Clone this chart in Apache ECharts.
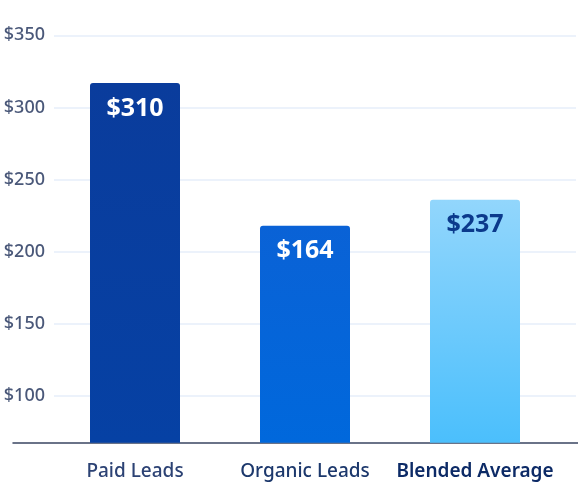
<!DOCTYPE html>
<html>
<head>
<meta charset="utf-8">
<script src="https://cdn.jsdelivr.net/npm/echarts@6/dist/echarts.min.js"></script>
<style>
html,body{margin:0;padding:0;background:#fff;}
#chart{width:578px;height:503px;}
</style>
</head>
<body>
<div id="chart"></div>
<script>
const categories = ['Paid Leads', 'Organic Leads', 'Blended Average'];
const barValues = [317, 218, 236];
const labelTexts = ['$310', '$164', '$237'];
const tickMin = 100, tickMax = 350, tickStep = 50;

const FONT = '"Noto Sans", "Open Sans", sans-serif';
const barColors = [
  new echarts.graphic.LinearGradient(0,0,0,1,[{offset:0,color:'#0a3c9c'},{offset:1,color:'#0641a4'}]),
  new echarts.graphic.LinearGradient(0,0,0,1,[{offset:0,color:'#0a62d6'},{offset:1,color:'#0068dc'}]),
  new echarts.graphic.LinearGradient(0,0,0,1,[{offset:0,color:'#92d6fc'},{offset:1,color:'#4bbffc'}])
];
const labelColors = ['#ffffff', '#ffffff', '#0b3a8c'];
const catColors = ['#2c4274', '#1c386c', '#0c2a66'];
const catWeights = [500, 500, 600];

const chart = echarts.init(document.getElementById('chart'), null, {renderer: 'canvas'});
chart.setOption({
  animation: false,
  backgroundColor: '#ffffff',
  grid: [
    {left: 54, right: 2, top: 35.3, bottom: 107},
    {left: 13, right: 0, top: 35.3, bottom: 60.3},
    {left: 50, right: 18, top: 35.3, bottom: 60.3}
  ],
  xAxis: [
    {gridIndex: 0, type: 'category', data: categories, show: false},
    {gridIndex: 1, type: 'category', data: categories,
      axisLine: {show: true, lineStyle: {color: '#3a4562', width: 1.5}},
      axisTick: {show: false}, axisLabel: {show: false}},
    {gridIndex: 2, type: 'category', data: categories,
      axisLine: {show: false}, axisTick: {show: false},
      axisLabel: {
        interval: 0,
        margin: 19,
        fontFamily: FONT,
        fontSize: 19,
        formatter: function (v, i) { return '{c' + i + '|' + v + '}'; },
        rich: {
          c0: {color: catColors[0], fontWeight: catWeights[0], fontSize: 19, fontFamily: FONT},
          c1: {color: catColors[1], fontWeight: catWeights[1], fontSize: 19, fontFamily: FONT},
          c2: {color: catColors[2], fontWeight: catWeights[2], fontSize: 19, fontFamily: FONT}
        }
      }}
  ],
  yAxis: [
    {gridIndex: 0, type: 'value', min: tickMin, max: tickMax, interval: tickStep,
      axisLine: {show: false}, axisTick: {show: false},
      axisLabel: {margin: 9, color: '#4a5879', fontSize: 18, fontWeight: 500, fontFamily: FONT,
        formatter: function (v) { return '$' + v; }},
      splitLine: {show: true, lineStyle: {color: '#e6eefa', width: 1.5}}},
    {gridIndex: 1, type: 'value', min: tickMin, max: tickMax, show: false, splitLine: {show: false}},
    {gridIndex: 2, type: 'value', min: 67.5, max: 350, show: false, splitLine: {show: false}}
  ],
  series: [{
    type: 'bar',
    xAxisIndex: 2,
    yAxisIndex: 2,
    barWidth: 90,
    data: barValues.map(function (v, i) {
      return {
        value: v,
        itemStyle: {color: barColors[i], borderRadius: [3, 3, 0, 0]},
        label: {color: labelColors[i]}
      };
    }),
    label: {
      show: true,
      position: 'insideTop',
      distance: 13,
      fontFamily: FONT,
      fontSize: 25,
      fontWeight: 700,
      formatter: function (p) { return labelTexts[p.dataIndex]; }
    }
  }]
});
</script>
</body>
</html>
